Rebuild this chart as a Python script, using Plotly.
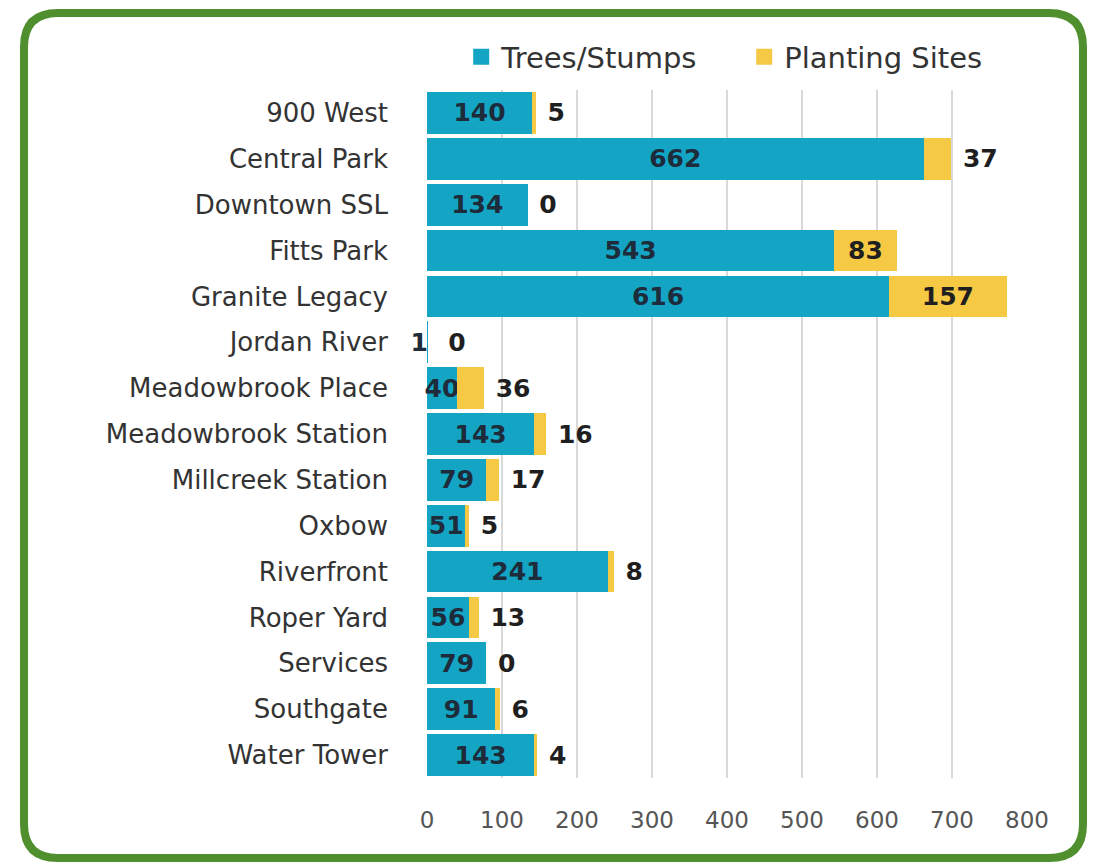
"""
Trees/Stumps vs Planting Sites by site - stacked horizontal bar
"""
import plotly.graph_objects as go

sites = ['900 West', 'Central Park', 'Downtown SSL', 'Fitts Park', 'Granite Legacy',
         'Jordan River', 'Meadowbrook Place', 'Meadowbrook Station', 'Millcreek Station',
         'Oxbow', 'Riverfront', 'Roper Yard', 'Services', 'Southgate', 'Water Tower']
trees = [140, 662, 134, 543, 616, 1, 40, 143, 79, 51, 241, 56, 79, 91, 143]
planting = [5, 37, 0, 83, 157, 0, 36, 16, 17, 5, 8, 13, 0, 6, 4]
x_ticks = [0, 100, 200, 300, 400, 500, 600, 700, 800]

TEAL = '#14a5c5'
YELLOW = '#f6c945'
GREEN = '#4f8f2e'
FONT = 'DejaVu Sans, Verdana, sans-serif'

# page body adds an 8px offset, so the figure is 8px smaller than the window
W, H = 1097, 857
L, R, T, B = 419, 78, 82, 87

# teal bars too thin for a label get their own trace, label pushed to the left
trees_big = [t if t >= 10 else None for t in trees]
trees_tiny = [t if t < 10 else None for t in trees]

# yellow labels sit inside only where the segment is wide enough;
# outside labels get a small gap, a bigger one next to near-empty bars
plant_pos = ['inside' if v >= 60 else 'outside' for v in planting]
plant_txt = []
for t, v, p in zip(trees, planting, plant_pos):
    if p == 'inside':
        plant_txt.append(str(v))
    else:
        pad = '\u00a0\u00a0' if t + v < 10 else '\u00a0'
        plant_txt.append(pad + str(v))

label_font = dict(family=FONT, size=25, color='#1d2b3a', weight='bold')

fig = go.Figure()

fig.add_trace(go.Bar(
    name='Trees/Stumps',
    y=sites,
    x=trees_big,
    orientation='h',
    showlegend=False,
    marker=dict(color=TEAL, line=dict(width=0)),
    text=['' if t is None else str(t) for t in trees_big],
    textposition='inside',
    insidetextanchor='middle',
    textangle=0,
    constraintext='none',
    cliponaxis=False,
    textfont=label_font,
))

fig.add_trace(go.Bar(
    name='Trees/Stumps',
    y=sites,
    x=trees_tiny,
    orientation='h',
    showlegend=False,
    marker=dict(color=TEAL, line=dict(width=0)),
    text=['' if t is None else str(t) for t in trees_tiny],
    textposition='inside',
    insidetextanchor='end',
    textangle=0,
    constraintext='none',
    cliponaxis=False,
    textfont=label_font,
))

fig.add_trace(go.Bar(
    name='Planting Sites',
    y=sites,
    x=planting,
    orientation='h',
    showlegend=False,
    marker=dict(color=YELLOW, line=dict(width=0)),
    text=plant_txt,
    textposition=plant_pos,
    insidetextanchor='middle',
    textangle=0,
    constraintext='none',
    cliponaxis=False,
    textfont=dict(family=FONT, size=25, color='#1f1f1f', weight='bold'),
))

# legend-only entries with larger square swatches
for name, color in [('Trees/Stumps', TEAL), ('Planting Sites', YELLOW)]:
    fig.add_trace(go.Scatter(
        x=[None], y=[None], mode='markers', name=name,
        marker=dict(symbol='square', size=16, color=color),
    ))

# rounded green frame, expressed in paper units
pw, ph = W - L - R, H - T - B
def px(v):
    return (v - L) / pw
def py(v):
    return (H - B - v) / ph

x0, x1, y0, y1, rad = 16, 1075, 5, 850, 34
path = (f"M {px(x0 + rad)} {py(y0)} L {px(x1 - rad)} {py(y0)} "
        f"Q {px(x1)} {py(y0)} {px(x1)} {py(y0 + rad)} "
        f"L {px(x1)} {py(y1 - rad)} Q {px(x1)} {py(y1)} {px(x1 - rad)} {py(y1)} "
        f"L {px(x0 + rad)} {py(y1)} Q {px(x0)} {py(y1)} {px(x0)} {py(y1 - rad)} "
        f"L {px(x0)} {py(y0 + rad)} Q {px(x0)} {py(y0)} {px(x0 + rad)} {py(y0)} Z")

fig.add_shape(type='path', path=path, xref='paper', yref='paper',
              line=dict(color=GREEN, width=8), layer='above')

fig.update_layout(
    width=W,
    height=H,
    barmode='stack',
    bargap=0.09,
    plot_bgcolor='white',
    paper_bgcolor='white',
    margin=dict(l=L, r=R, t=T, b=B),
    font=dict(family=FONT, color='#333333'),
    showlegend=True,
    legend=dict(
        orientation='h',
        x=0.057, xanchor='left',
        y=1.048, yanchor='middle',
        font=dict(size=29, color='#333333'),
        itemsizing='trace',
        entrywidth=238,
        traceorder='normal',
    ),
    xaxis=dict(
        range=[0, 800],
        tickvals=x_ticks,
        showgrid=True,
        gridcolor='#d9d9d9',
        gridwidth=1.5,
        zeroline=False,
        showline=False,
        ticks='',
        ticklabelstandoff=26,
        tickfont=dict(size=23, color='#555555'),
    ),
    yaxis=dict(
        autorange='reversed',
        showgrid=False,
        zeroline=False,
        showline=False,
        ticks='',
        ticklabelstandoff=38,
        tickfont=dict(size=26, color='#333333'),
    ),
)

fig.write_html("out.html")
